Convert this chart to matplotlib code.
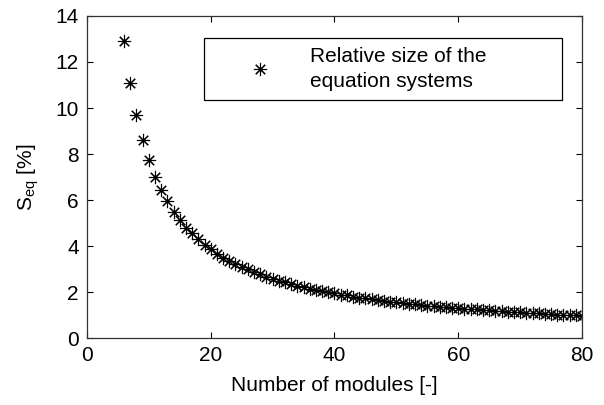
import numpy as np
import matplotlib
matplotlib.use('Agg')
import matplotlib.pyplot as plt

plt.rcParams['font.family'] = ['Liberation Sans', 'DejaVu Sans']
plt.rcParams['mathtext.fontset'] = 'custom'
plt.rcParams['mathtext.rm'] = 'Liberation Sans'

# number of modules and relative size of the equation systems [%]
modules = list(range(6, 81))
s_eq = [12.9, 11.1, 9.7, 8.6, 7.75, 7.0, 6.45, 5.95, 5.5, 5.15,
        4.8, 4.55, 4.3, 4.05, 3.85, 3.67, 3.5, 3.35, 3.22, 3.1,
        2.98, 2.87, 2.77, 2.67, 2.58, 2.5, 2.42, 2.35, 2.28, 2.21,
        2.15, 2.09, 2.04, 1.99, 1.94, 1.89, 1.85, 1.8, 1.76, 1.72,
        1.69, 1.65, 1.62, 1.58, 1.55, 1.52, 1.49, 1.47, 1.44, 1.41,
        1.39, 1.37, 1.34, 1.32, 1.3, 1.28, 1.26, 1.24, 1.22, 1.2,
        1.18, 1.16, 1.15, 1.13, 1.11, 1.1, 1.08, 1.07, 1.05, 1.04,
        1.02, 1.01, 1.0, 0.98, 0.97]

xticks = [0, 20, 40, 60, 80]
yticks = [0, 2, 4, 6, 8, 10, 12, 14]

fig = plt.figure(figsize=(6.04, 4.05), dpi=100)
ax = fig.add_axes([0.144, 0.1654, 0.8196, 0.7951])

ax.plot(modules, s_eq, linestyle='none', marker=(8, 2, 0), markersize=9.5,
        color='k', markeredgewidth=0.8, label='Relative size of the\nequation systems')

ax.set_xlim(0, 80)
ax.set_ylim(0, 14)
ax.set_xticks(xticks)
ax.set_yticks(yticks)
ax.tick_params(direction='in', length=4, width=0.8, top=True, right=True, labelsize=15, pad=6)
for sp in ax.spines.values():
    sp.set_linewidth(0.9)
    sp.set_color('#333333')

ax.set_xlabel('Number of modules [-]', fontsize=15, labelpad=8)
ax.set_ylabel(r'S$_{\rm eq}$ [%]', fontsize=15, labelpad=10)

leg = ax.legend(loc='upper left', bbox_to_anchor=(0.236, 0.932, 0.724, 0.0),
                mode='expand', borderaxespad=0, fontsize=15, handlelength=4.5,
                handletextpad=0.15, borderpad=0.45, fancybox=False, framealpha=1,
                edgecolor='k')
leg.get_frame().set_linewidth(0.9)
for t in leg.get_texts():
    t.set_linespacing(1.35)

fig.savefig('out.png', dpi=100)
